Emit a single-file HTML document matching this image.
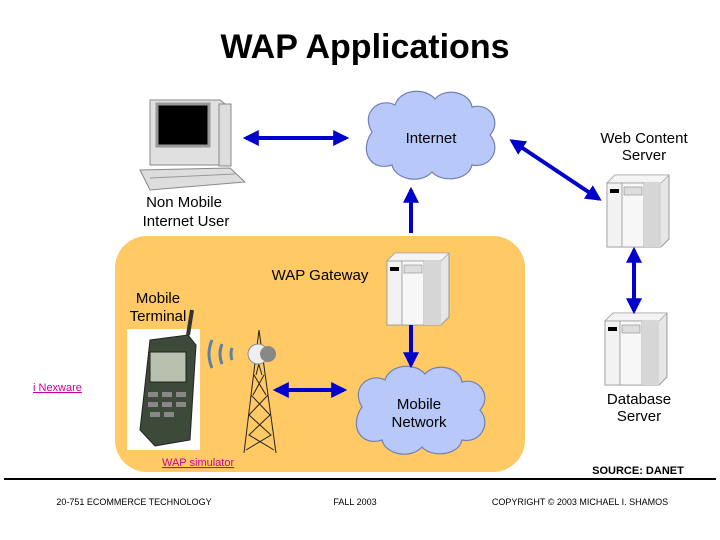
<!DOCTYPE html>
<html><head><meta charset="utf-8"><style>
body{margin:0;background:#fff}
svg{display:block}
text{font-family:"Liberation Sans",sans-serif}
</style></head><body>
<svg width="720" height="540" viewBox="0 0 720 540" xmlns="http://www.w3.org/2000/svg">
<defs>
<marker id="a" markerWidth="4" markerHeight="4" refX="3.2" refY="2" orient="auto-start-reverse" markerUnits="strokeWidth"><path d="M0,0 L4,2 L0,4 z" fill="#0000cc"/></marker>
<g id="srv">
<path d="M0,8 L8,0 L62,0 L62,64 L54,72 L0,72 z" fill="#e6e6e6" stroke="#999" stroke-width="1"/>
<path d="M0,8 L8,0 L62,0 L54,8 z" fill="#f4f4f4" stroke="#aaa" stroke-width="0.8"/>
<rect x="0" y="8" width="15" height="64" fill="#f2f2f2" stroke="#999" stroke-width="0.8"/>
<rect x="15" y="8" width="22" height="64" fill="#f7f7f7" stroke="#999" stroke-width="0.8"/>
<rect x="3" y="14" width="9" height="4" fill="#000"/>
<rect x="17" y="12" width="18" height="8" fill="#ddd" stroke="#777" stroke-width="0.5"/>
<path d="M37,8 L54,8 L54,72 L37,72 z" fill="#d6d6d6"/>
</g>
<g id="cloud">
<path d="M-58,-5 C-70,-25 -50,-40 -35,-32 C-30,-48 -5,-50 5,-38 C15,-50 40,-45 42,-30 C60,-35 72,-15 60,-2 C72,12 60,32 42,28 C38,45 10,45 2,35 C-10,48 -35,42 -38,28 C-58,35 -72,15 -58,-5 z" fill="#b8c8f8" stroke="#7080b0" stroke-width="1.2"/>
</g>
</defs>
<text x="365" y="58" font-size="34" font-weight="bold" text-anchor="middle" fill="#000">WAP Applications</text>

<rect x="115" y="236" width="410" height="236" rx="32" fill="#ffc966"/>

<use href="#cloud" x="430" y="137"/>
<text x="431" y="143" font-size="15" text-anchor="middle">Internet</text>
<use href="#cloud" x="420" y="412"/>
<text x="419" y="409" font-size="15" text-anchor="middle">Mobile</text>
<text x="419" y="427" font-size="15" text-anchor="middle">Network</text>

<g>
<path d="M150,100 L220,100 L230,108 L230,165 L150,165 z" fill="#e0e0e0" stroke="#888"/>
<rect x="157" y="104" width="52" height="42" fill="#000" stroke="#999" stroke-width="3"/>
<rect x="219" y="104" width="12" height="62" fill="#ddd" stroke="#888"/>
<path d="M140,170 L230,168 L245,182 L150,190 z" fill="#ddd" stroke="#888"/>
<path d="M150,178 L235,174" stroke="#999"/>
</g>
<text x="184" y="207" font-size="15" text-anchor="middle">Non Mobile</text>
<text x="186" y="226" font-size="15" text-anchor="middle">Internet User</text>

<text x="644" y="143" font-size="15" text-anchor="middle">Web Content</text>
<text x="644" y="160" font-size="15" text-anchor="middle">Server</text>
<use href="#srv" x="607" y="175"/>
<use href="#srv" x="605" y="313"/>
<text x="639" y="404" font-size="15" text-anchor="middle">Database</text>
<text x="639" y="421" font-size="15" text-anchor="middle">Server</text>

<use href="#srv" x="387" y="253"/>
<text x="320" y="280" font-size="15" text-anchor="middle">WAP Gateway</text>
<text x="158" y="303" font-size="15" text-anchor="middle">Mobile</text>
<text x="158" y="321" font-size="15" text-anchor="middle">Terminal</text>

<rect x="127" y="329" width="73" height="121" fill="#fff"/>
<path d="M150,340 L188,335 L196,345 L190,440 L155,446 L140,430 z" fill="#3d4a3a" stroke="#222"/>
<rect x="150" y="352" width="36" height="30" fill="#b8c0b0" stroke="#222"/>
<path d="M188,335 L192,310" stroke="#333" stroke-width="4"/>
<g fill="#888"><rect x="148" y="392" width="10" height="5"/><rect x="162" y="392" width="10" height="5"/><rect x="176" y="392" width="10" height="5"/><rect x="148" y="402" width="10" height="5"/><rect x="162" y="402" width="10" height="5"/><rect x="176" y="402" width="10" height="5"/><rect x="150" y="412" width="10" height="5"/><rect x="164" y="412" width="10" height="5"/></g>

<g stroke="#222" stroke-width="1" fill="none">
<path d="M244,453 L259,330 L276,453"/>
<path d="M251,395 L270,415 L249,435 L274,450 M268,395 L249,415 L271,435 L246,450 M254,375 L266,395 M264,375 L253,395 M256,355 L262,375 M261,355 L256,375"/>
</g>
<circle cx="258" cy="354" r="10" fill="#eee" stroke="#888"/>
<circle cx="268" cy="354" r="8" fill="#888"/>
<path d="M212,340 Q206,354 212,368 M222,344 Q218,354 222,364 M232,348 Q230,354 232,360" stroke="#6080a0" stroke-width="3" fill="none"/>

<g stroke="#0000cc" stroke-width="4" fill="none">
<line x1="246" y1="138" x2="346" y2="138" marker-start="url(#a)" marker-end="url(#a)"/>
<line x1="411" y1="233" x2="411" y2="190" marker-end="url(#a)"/>
<line x1="411" y1="325" x2="411" y2="365" marker-end="url(#a)"/>
<line x1="512" y1="141" x2="599" y2="199" marker-start="url(#a)" marker-end="url(#a)"/>
<line x1="634" y1="250" x2="634" y2="311" marker-start="url(#a)" marker-end="url(#a)"/>
<line x1="276" y1="390" x2="344" y2="390" marker-start="url(#a)" marker-end="url(#a)"/>
</g>

<text x="33" y="391" font-size="11" fill="#cc0099" text-decoration="underline">i Nexware</text>
<text x="162" y="466" font-size="11" fill="#cc0099" text-decoration="underline">WAP simulator</text>
<text x="638" y="474" font-size="11" font-weight="bold" text-anchor="middle">SOURCE: DANET</text>
<line x1="4" y1="479" x2="716" y2="479" stroke="#000" stroke-width="2"/>
<text x="134" y="505" font-size="9" text-anchor="middle">20-751 ECOMMERCE TECHNOLOGY</text>
<text x="355" y="505" font-size="9" text-anchor="middle">FALL 2003</text>
<text x="580" y="505" font-size="9" text-anchor="middle">COPYRIGHT © 2003 MICHAEL I. SHAMOS</text>
</svg>
</body></html>
